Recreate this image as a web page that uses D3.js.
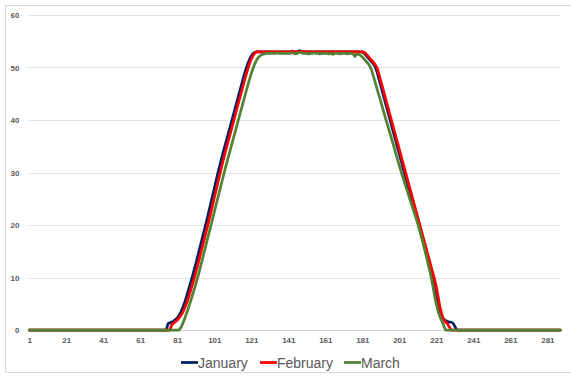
<!DOCTYPE html>
<html>
<head>
<meta charset="utf-8">
<script src="https://cdn.jsdelivr.net/npm/d3@7"></script>
<style>
  html, body { margin: 0; padding: 0; background: #fff; }
  svg { display: block; }
</style>
</head>
<body>
<svg id="chart" width="571" height="376"></svg>
<script>
// Interval index (1..288) along the horizontal axis
const categories = d3.range(1, 289);

// Tick labels shown on the category axis
const xTickLabels = [1, 21, 41, 61, 81, 101, 121, 141, 161, 181, 201, 221, 241, 261, 281];
const yTickValues = [0, 10, 20, 30, 40, 50, 60];

const seriesNames = ["January", "February", "March"];

const january = [
  0,0,0,0,0,0,0,0,0,0,
  0,0,0,0,0,0,0,0,0,0,
  0,0,0,0,0,0,0,0,0,0,
  0,0,0,0,0,0,0,0,0,0,
  0,0,0,0,0,0,0,0,0,0,
  0,0,0,0,0,0,0,0,0,0,
  0,0,0,0,0,0,0,0,0,0,
  0,0,0,0,0,1.2,1.4,1.5,1.7,2.0,
  2.3,2.8,3.5,4.3,5.3,6.4,7.6,8.8,10.0,11.3,
  12.6,14.0,15.4,16.8,18.2,19.6,21.0,22.5,24.0,25.5,
  27.0,28.5,30.0,31.4,32.8,34.1,35.4,36.7,38.0,39.3,
  40.6,41.9,43.2,44.5,45.8,47.1,48.4,49.6,50.6,51.5,
  52.2,52.7,52.9,53.0,53.0,53.0,53.0,53.0,53.0,53.0,
  53.0,53.0,53.0,53.0,53.0,53.0,53.0,53.0,53.0,53.0,
  53.0,53.0,53.0,53.0,53.0,53.0,53.2,53.1,53.0,53.0,
  53.0,53.0,53.0,53.0,53.0,53.0,53.0,53.0,53.0,53.0,
  53.0,53.0,53.0,53.0,53.0,53.0,53.0,53.0,53.0,53.0,
  53.0,53.0,53.0,53.0,53.0,53.0,53.0,53.0,53.0,53.0,
  53.0,52.7,52.3,51.9,51.5,51.1,50.7,50.1,49.1,47.8,
  46.5,45.2,43.9,42.6,41.3,40.0,38.7,37.4,36.1,34.8,
  33.5,32.2,30.9,29.6,28.3,27.0,25.7,24.4,23.1,21.8,
  20.5,19.2,17.9,16.6,15.3,14.0,12.7,11.4,10.1,8.7,
  6.9,4.9,3.3,2.4,2.0,1.8,1.6,1.5,1.5,1.3,
  0.7,0,0,0,0,0,0,0,0,0,
  0,0,0,0,0,0,0,0,0,0,
  0,0,0,0,0,0,0,0,0,0,
  0,0,0,0,0,0,0,0,0,0,
  0,0,0,0,0,0,0,0,0,0,
  0,0,0,0,0,0,0,0
];

const february = [
  0,0,0,0,0,0,0,0,0,0,
  0,0,0,0,0,0,0,0,0,0,
  0,0,0,0,0,0,0,0,0,0,
  0,0,0,0,0,0,0,0,0,0,
  0,0,0,0,0,0,0,0,0,0,
  0,0,0,0,0,0,0,0,0,0,
  0,0,0,0,0,0,0,0,0,0,
  0,0,0,0,0,0,0,1.0,1.3,1.6,
  1.9,2.3,2.8,3.4,4.2,5.1,6.1,7.3,8.5,9.7,
  11.0,12.3,13.7,15.1,16.5,17.9,19.3,20.7,22.2,23.7,
  25.2,26.7,28.2,29.7,31.2,32.6,34.0,35.3,36.6,37.9,
  39.2,40.6,41.9,43.2,44.5,45.8,47.1,48.4,49.6,50.7,
  51.6,52.3,52.8,53.0,53.0,53.0,53.0,53.0,53.0,53.0,
  53.0,53.0,53.0,53.0,53.0,53.0,53.0,53.0,53.0,53.0,
  53.0,53.0,53.1,53.0,53.0,53.0,53.0,53.0,53.1,53.0,
  53.0,53.0,53.0,53.0,53.0,53.0,53.0,53.0,53.0,53.0,
  53.0,53.0,53.0,53.0,53.0,53.0,53.0,53.0,53.0,53.0,
  53.0,53.0,53.0,53.0,53.0,53.0,53.0,53.0,53.0,53.0,
  53.0,52.9,52.6,52.2,51.8,51.4,51.0,50.5,49.9,48.7,
  47.4,46.1,44.8,43.5,42.2,40.9,39.6,38.3,37.0,35.7,
  34.4,33.1,31.8,30.5,29.2,27.9,26.6,25.3,24.0,22.7,
  21.4,20.1,18.8,17.5,16.2,14.9,13.6,12.3,11.0,9.7,
  8.2,6.3,4.3,2.9,2.0,1.5,1.2,0.6,0,0,
  0,0,0,0,0,0,0,0,0,0,
  0,0,0,0,0,0,0,0,0,0,
  0,0,0,0,0,0,0,0,0,0,
  0,0,0,0,0,0,0,0,0,0,
  0,0,0,0,0,0,0,0,0,0,
  0,0,0,0,0,0,0,0
];

const march = [
  0,0,0,0,0,0,0,0,0,0,
  0,0,0,0,0,0,0,0,0,0,
  0,0,0,0,0,0,0,0,0,0,
  0,0,0,0,0,0,0,0,0,0,
  0,0,0,0,0,0,0,0,0,0,
  0,0,0,0,0,0,0,0,0,0,
  0,0,0,0,0,0,0,0,0,0,
  0,0,0,0,0,0,0,0,0,0,
  0,0,0.5,1.3,2.2,3.2,4.2,5.3,6.4,7.6,
  8.8,10.0,11.3,12.7,14.1,15.5,16.9,18.3,19.7,21.1,
  22.5,23.9,25.3,26.7,28.1,29.5,30.9,32.2,33.5,34.8,
  36.1,37.4,38.7,40.0,41.3,42.6,43.9,45.2,46.5,47.7,
  48.9,49.9,50.8,51.5,52.0,52.3,52.5,52.6,52.7,52.7,
  52.7,52.7,52.7,52.7,52.8,52.7,52.7,52.7,52.7,52.7,
  52.7,52.7,52.8,52.7,52.6,52.7,52.9,52.8,52.7,52.7,
  52.7,52.6,52.7,52.7,52.8,52.7,52.7,52.6,52.7,52.7,
  52.7,52.7,52.6,52.7,52.5,52.7,52.7,52.7,52.6,52.7,
  52.7,52.7,52.6,52.7,52.7,52.6,52.1,52.6,52.5,52.3,
  52.0,51.6,51.2,50.8,50.3,49.5,48.3,47.1,45.9,44.7,
  43.5,42.2,41.0,39.8,38.6,37.4,36.2,35.0,33.7,32.5,
  31.3,30.1,29.0,27.9,26.8,25.7,24.6,23.5,22.4,21.3,
  20.2,19.0,17.7,16.3,14.9,13.4,11.9,10.4,8.6,6.6,
  4.9,3.5,2.5,1.7,0.8,0,0,0,0,0,
  0,0,0,0,0,0,0,0,0,0,
  0,0,0,0,0,0,0,0,0,0,
  0,0,0,0,0,0,0,0,0,0,
  0,0,0,0,0,0,0,0,0,0,
  0,0,0,0,0,0,0,0,0,0,
  0,0,0,0,0,0,0,0
];

const seriesValues = [january, february, march];
const seriesColors = ["#002060", "#ff0000", "#548235"];

const svg = d3.select("#chart");
const W = 571, H = 376;

// background and chart frame
svg.append("rect").attr("width", W).attr("height", H).attr("fill", "#fff");
svg.append("rect")
  .attr("x", 5.5).attr("y", 5.5)
  .attr("width", 600).attr("height", 367)
  .attr("fill", "none").attr("stroke", "#d9d9d9").attr("stroke-width", 1);

const plot = { left: 28.3, right: 561, top: 15, bottom: 330 };

const x = d3.scalePoint()
  .domain(categories)
  .range([29.3, 560.3])
  .padding(0);

const y = d3.scaleLinear()
  .domain([0, 60])
  .range([plot.bottom, plot.top]);

// horizontal gridlines
svg.append("g")
  .selectAll("line")
  .data(yTickValues.filter(v => v > 0))
  .join("line")
  .attr("x1", plot.left).attr("x2", plot.right)
  .attr("y1", d => Math.round(y(d)) + 0.5)
  .attr("y2", d => Math.round(y(d)) + 0.5)
  .attr("stroke", "#e3e3e3")
  .attr("stroke-width", 1);

// category axis line
svg.append("line")
  .attr("x1", plot.left).attr("x2", plot.right)
  .attr("y1", Math.round(y(0)) + 0.5).attr("y2", Math.round(y(0)) + 0.5)
  .attr("stroke", "#d0d0d0").attr("stroke-width", 1);

// y axis labels
const yAxis = d3.axisLeft(y).tickValues(yTickValues).tickSize(0).tickPadding(0);
const gy = svg.append("g").attr("transform", "translate(19.5,0)").call(yAxis);
gy.select(".domain").remove();
gy.selectAll("text")
  .attr("fill", "#595959")
  .attr("font-family", "'Liberation Sans', Arial, sans-serif")
  .attr("font-weight", "bold")
  .attr("font-size", "8px");

// x axis labels
const xAxis = d3.axisBottom(x).tickValues(xTickLabels).tickSize(0).tickPadding(0);
const gx = svg.append("g").attr("transform", "translate(0,337)").call(xAxis);
gx.select(".domain").remove();
gx.selectAll("text")
  .attr("fill", "#595959")
  .attr("font-family", "'Liberation Sans', Arial, sans-serif")
  .attr("font-weight", "bold")
  .attr("font-size", "8px");

// series lines
const line = d3.line()
  .x((d, i) => x(categories[i]))
  .y(d => y(d));

svg.append("g")
  .selectAll("path")
  .data(seriesValues)
  .join("path")
  .attr("d", d => line(d))
  .attr("fill", "none")
  .attr("stroke", (d, i) => seriesColors[i])
  .attr("stroke-width", 2.75)
  .attr("stroke-linejoin", "round")
  .attr("stroke-linecap", "round");

// legend
const legendItems = [
  { name: seriesNames[0], color: seriesColors[0], x: 181 },
  { name: seriesNames[1], color: seriesColors[1], x: 260 },
  { name: seriesNames[2], color: seriesColors[2], x: 344 }
];
const lg = svg.append("g");
const legendY = 362.5;
legendItems.forEach(item => {
  lg.append("line")
    .attr("x1", item.x).attr("x2", item.x + 17)
    .attr("y1", legendY).attr("y2", legendY)
    .attr("stroke", item.color).attr("stroke-width", 2.75);
  lg.append("text")
    .attr("x", item.x + 17)
    .attr("y", legendY + 5)
    .attr("fill", "#595959")
    .attr("font-family", "'Liberation Sans', Arial, sans-serif")
    .attr("font-size", "14px")
    .text(item.name);
});
</script>
</body>
</html>
